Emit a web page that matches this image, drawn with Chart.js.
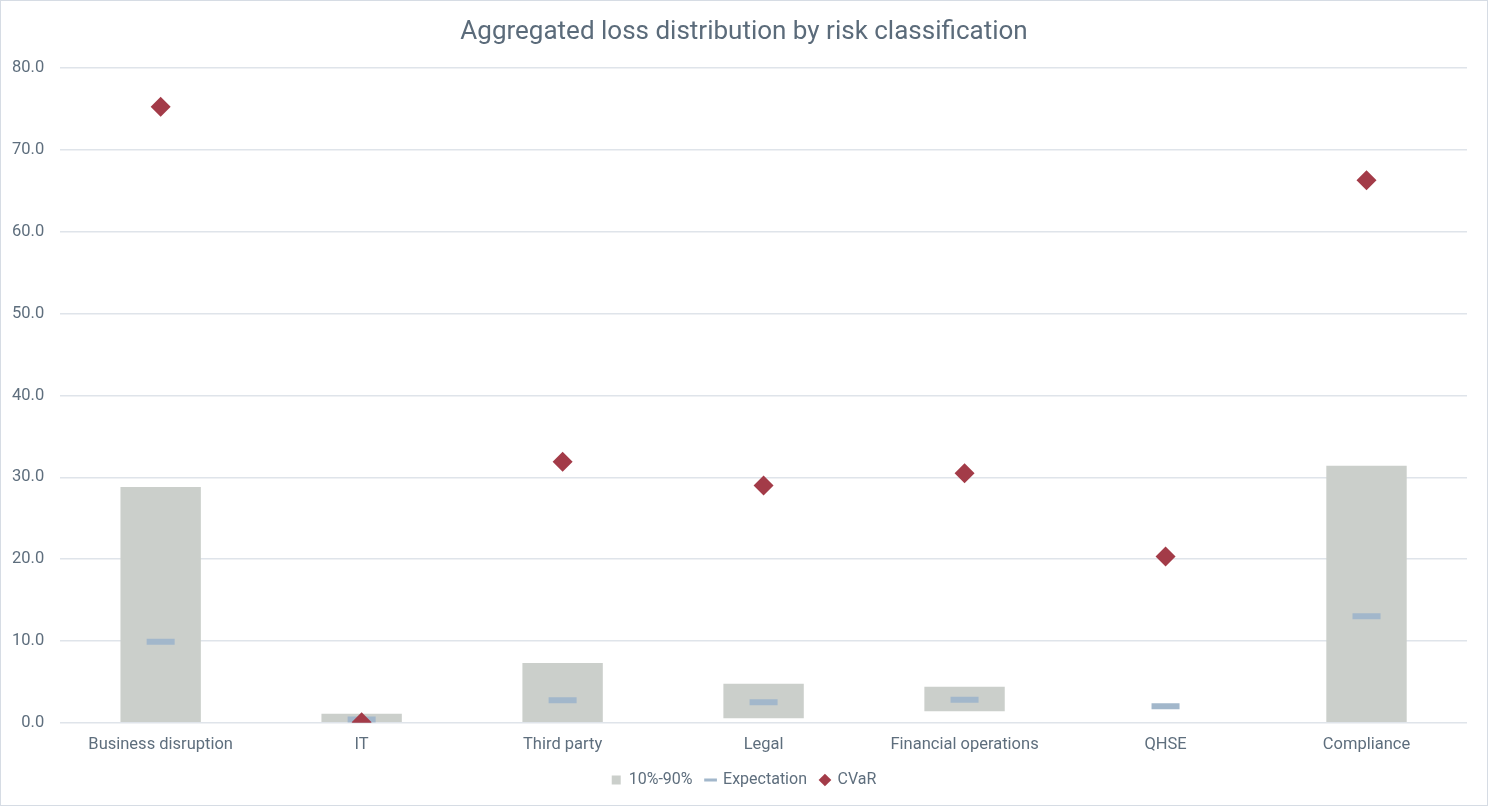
<!DOCTYPE html>
<html lang="en">
<head>
    <meta charset="UTF-8">
    <title>Aggregated loss distribution by risk classification</title>
    <script src="https://cdn.jsdelivr.net/npm/chart.js"></script>
    <style>
        html, body { margin: 0; padding: 0; background: #ffffff; }
        .chart-box {
            width: 1488px;
            height: 806px;
            box-sizing: border-box;
            border: 1px solid #d6dce4;
            position: relative;
        }
    </style>
</head>
<body>
    <div class="chart-box">
        <canvas id="lossChart"></canvas>
    </div>
    <script>
        // Chart data
        const categories = ['Business disruption', 'IT', 'Third party', 'Legal', 'Financial operations', 'QHSE', 'Compliance'];
        const p10 = [0, 0, 0, 0.55, 1.4, 0, 0];
        const p90 = [28.8, 1.1, 7.3, 4.75, 4.4, 0, 31.4];
        const expectation = [9.9, 0.4, 2.75, 2.5, 2.8, 2.0, 13.0];
        const cvar = [75.3, 0.05, 31.9, 29.0, 30.5, 20.3, 66.3];

        const barColor = '#cbcfcb';
        const expColor = '#a2b7cb';
        const cvarColor = '#a33b48';
        const textColor = '#5e6e7d';

        const ranges = categories.map((c, i) => [p10[i], p90[i]]);

        const ctx = document.getElementById('lossChart').getContext('2d');
        new Chart(ctx, {
            type: 'bar',
            data: {
                labels: categories,
                datasets: [
                    {
                        type: 'bar',
                        label: '10%-90%',
                        data: ranges,
                        backgroundColor: barColor,
                        borderWidth: 0,
                        categoryPercentage: 1,
                        barPercentage: 0.4,
                        order: 3
                    },
                    {
                        type: 'line',
                        label: 'Expectation',
                        data: expectation,
                        showLine: false,
                        pointStyle: 'line',
                        pointRadius: 14,
                        pointHoverRadius: 14,
                        pointBorderWidth: 6,
                        pointBorderColor: expColor,
                        borderColor: expColor,
                        backgroundColor: expColor,
                        order: 2
                    },
                    {
                        type: 'line',
                        label: 'CVaR',
                        data: cvar,
                        showLine: false,
                        pointStyle: 'rectRot',
                        pointRadius: 10,
                        pointHoverRadius: 10,
                        pointBorderWidth: 0,
                        borderColor: cvarColor,
                        backgroundColor: cvarColor,
                        order: 1
                    }
                ]
            },
            options: {
                responsive: true,
                maintainAspectRatio: false,
                animation: false,
                layout: {
                    padding: { left: -5, right: -5, top: 6, bottom: 7 }
                },
                scales: {
                    x: {
                        grid: { display: false },
                        border: { display: false },
                        ticks: {
                            color: textColor,
                            font: { family: 'Roboto', size: 16.5 },
                            padding: 4
                        }
                    },
                    y: {
                        min: 0,
                        max: 80,
                        ticks: {
                            stepSize: 10,
                            color: textColor,
                            font: { family: 'Roboto', size: 16.5 },
                            padding: 16,
                            callback: v => v.toFixed(1)
                        },
                        grid: { color: '#dfe4ea', lineWidth: 1.5, drawTicks: false },
                        border: { display: false }
                    },
                    // empty right axis, only reserves the right margin
                    spacer: {
                        type: 'linear',
                        position: 'right',
                        grid: { display: false },
                        border: { display: false },
                        ticks: { display: false },
                        afterFit: scale => { scale.width = 25; }
                    }
                },
                plugins: {
                    title: {
                        display: true,
                        text: 'Aggregated loss distribution by risk classification',
                        color: '#5b6b7a',
                        font: { family: 'Roboto', size: 26, weight: 'normal' },
                        padding: { top: 10, bottom: 20 }
                    },
                    legend: {
                        position: 'bottom',
                        labels: {
                            usePointStyle: true,
                            boxWidth: 9,
                            boxHeight: 9,
                            padding: 13.5,
                            color: textColor,
                            font: { family: 'Roboto', size: 16 },
                            generateLabels: () => [
                                { text: '10%-90%', fillStyle: barColor, strokeStyle: barColor, lineWidth: 0, pointStyle: 'rect', datasetIndex: 0, fontColor: textColor },
                                { text: 'Expectation', fillStyle: expColor, strokeStyle: expColor, lineWidth: 3, pointStyle: 'line', datasetIndex: 1, fontColor: textColor },
                                { text: 'CVaR', fillStyle: cvarColor, strokeStyle: cvarColor, lineWidth: 0, pointStyle: 'rectRot', datasetIndex: 2, fontColor: textColor }
                            ]
                        }
                    },
                    tooltip: { enabled: false }
                }
            }
        });
    </script>
</body>
</html>
